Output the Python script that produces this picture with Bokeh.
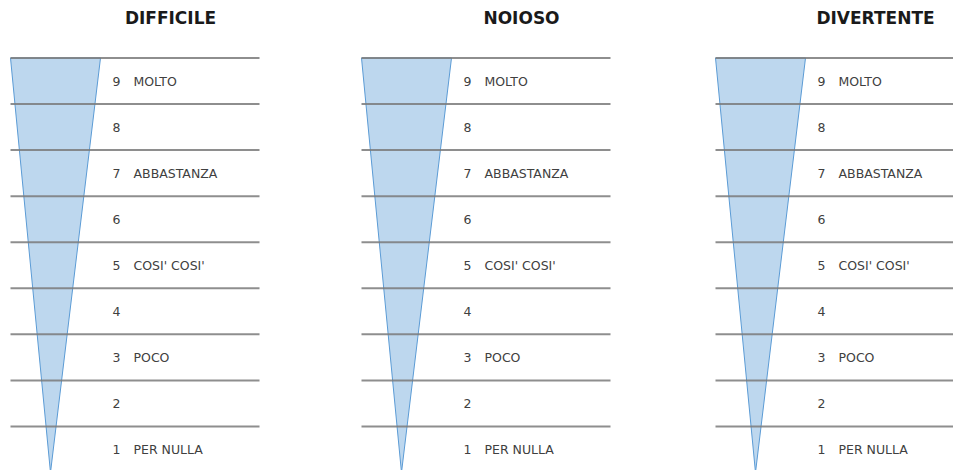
from bokeh.plotting import figure
from bokeh.models import Range1d, ColumnDataSource
from bokeh.core.properties import value
from bokeh.embed import file_html
from bokeh.resources import INLINE

# ---- data ----
titles = ["DIFFICILE", "NOIOSO", "DIVERTENTE"]
levels = [9, 8, 7, 6, 5, 4, 3, 2, 1]
level_words = ["MOLTO", "", "ABBASTANZA", "", "COSI' COSI'", "", "POCO", "", "PER NULLA"]
level_numbers = [str(v) for v in levels]

# ---- layout constants (reference pixels horizontally, levels vertically) ----
panel_left = [10, 361, 715]
line_len = 249
tri_top_w = 90
tri_apex_dx = 40
title_dx = 160
num_dx = 102
word_dx = 123
title_level = 10.36

W, H = 953, 470
row_px = 46.06
top_px = 57.5
y_hi = 9.5 + top_px / row_px
y_lo = 9.5 - (H - top_px) / row_px

p = figure(width=W, height=H, x_range=Range1d(0, W), y_range=Range1d(y_lo, y_hi),
           output_backend="svg", toolbar_location=None, min_border=0,
           x_axis_location=None, y_axis_location=None)
p.grid.visible = False
p.outline_line_color = None
p.background_fill_color = "white"
p.border_fill_color = "white"

top = max(levels) + 0.5
bottom = min(levels) - 0.5
bounds = [v + 0.5 for v in levels] + [bottom]

for i, left in enumerate(panel_left):
    # funnel triangle
    p.patch([left, left + tri_top_w, left + tri_apex_dx], [top, top, bottom],
            fill_color="#bdd7ee", line_color="#5b9bd5", line_width=1)
    # separating lines
    p.segment(x0=[left] * len(bounds), x1=[left + line_len] * len(bounds),
              y0=bounds, y1=bounds, line_color="#7a7a7a", line_alpha=0.85, line_width=2)
    # numbers
    src = ColumnDataSource(dict(x=[left + num_dx] * len(levels), y=levels, t=level_numbers))
    p.text(x="x", y="y", text="t", source=src, text_font=value("DejaVu Sans"),
           text_font_size="12.5px", text_color="#404040", text_baseline="middle")
    src2 = ColumnDataSource(dict(x=[left + word_dx] * len(levels), y=levels, t=level_words))
    p.text(x="x", y="y", text="t", source=src2, text_font=value("DejaVu Sans"),
           text_font_size="12.5px", text_color="#404040", text_baseline="middle")
    # title
    p.text(x=[left + title_dx], y=[title_level], text=[titles[i]], text_font=value("DejaVu Sans"),
           text_font_size="17px", text_font_style="bold", text_color="#1a1a1a",
           text_align="center", text_baseline="middle")

open("out.html", "w").write(file_html(p, INLINE))
